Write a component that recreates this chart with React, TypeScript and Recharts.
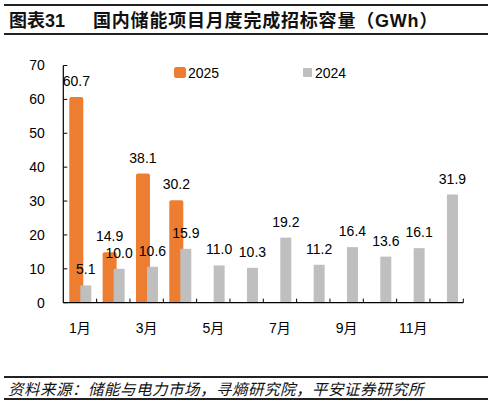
import React from 'react';
import { BarChart, Bar, XAxis, YAxis, LabelList, Legend, ReferenceLine } from 'recharts';

const months = ['1月', '2月', '3月', '4月', '5月', '6月', '7月', '8月', '9月', '10月', '11月', '12月'];
const values2025: (number | null)[] = [60.7, 14.9, 38.1, 30.2, null, null, null, null, null, null, null, null];
const values2024: number[] = [5.1, 10.0, 10.6, 15.9, 11.0, 10.3, 19.2, 11.2, 16.4, 13.6, 16.1, 31.9];
const yTicks = [0, 10, 20, 30, 40, 50, 60, 70];
const TICK_LEN = 1.2; // boundary tick length in value units

const seriesNames = ['2025', '2024'];
const colors = ['#ED7D31', '#BFBFBF'];

const data = months.map((m, i) => ({ month: m, v2025: values2025[i], v2024: values2024[i] }));

const FONT = '"Liberation Sans", Arial, "Noto Sans CJK SC", sans-serif';

const fmt = (v: any) => (v === null || v === undefined || v === '' ? '' : Number(v).toFixed(1));

const legendLeft = [174, 303];
const legendBox = [
  { w: 12, h: 11, r: 2.5 },
  { w: 9, h: 9, r: 1 },
];

const LegendContent = (props: any) => {
  const payload = props.payload || [];
  return (
    <div style={{ position: 'relative', width: 494, height: 16 }}>
      {payload.map((p: any, k: number) => {
        const idx = seriesNames.indexOf(String(p.value));
        const i = idx < 0 ? k : idx;
        const box = legendBox[i] || legendBox[1];
        return (
          <div
            key={String(p.value)}
            style={{
              position: 'absolute',
              left: legendLeft[i],
              top: 0,
              height: 16,
              display: 'flex',
              alignItems: 'center',
              fontFamily: FONT,
              fontSize: 14,
              color: '#000',
            }}
          >
            <span
              style={{
                display: 'inline-block',
                width: box.w,
                height: box.h,
                background: p.color,
                borderRadius: box.r,
                marginRight: i === 0 ? 2 : 3,
              }}
            />
            <span>{p.value}</span>
          </div>
        );
      })}
    </div>
  );
};

export default function App() {
  return (
    <div
      style={{
        position: 'absolute',
        left: 0,
        top: 0,
        width: 494,
        height: 405,
        background: '#fff',
        fontFamily: FONT,
        overflow: 'hidden',
      }}
    >
      <div style={{ position: 'absolute', left: 4, top: 4, width: 484, height: 1.5, background: '#222' }} />
      <div
        style={{
          position: 'absolute',
          left: 9,
          top: 9,
          height: 24,
          lineHeight: '24px',
          fontSize: 18,
          fontWeight: 'bold',
          color: '#111',
        }}
      >
        图表31
      </div>
      <div
        style={{
          position: 'absolute',
          left: 93,
          top: 9,
          height: 24,
          lineHeight: '24px',
          fontSize: 18,
          fontWeight: 'bold',
          letterSpacing: 0.8,
          color: '#111',
          whiteSpace: 'nowrap',
        }}
      >
        国内储能项目月度完成招标容量（GWh）
      </div>
      <div style={{ position: 'absolute', left: 4, top: 32.5, width: 484, height: 2, background: '#222' }} />

      <div style={{ position: 'absolute', left: 0, top: 0 }}>
        <BarChart
          width={494}
          height={345}
          data={data}
          margin={{ top: 65.5, right: 30.7, left: 4, bottom: 12.3 }}
          barGap={-3}
        >
          <XAxis
            dataKey="month"
            interval={1}
            tickLine={false}
            axisLine={{ stroke: '#000', strokeWidth: 1.2 }}
            tick={{ fontSize: 14, fill: '#000', fontFamily: FONT }}
            tickMargin={14}
            height={30}
          />
          <YAxis
            domain={[0, 70]}
            ticks={yTicks}
            interval={0}
            width={59.3}
            tickSize={-4}
            tickMargin={22.5}
            axisLine={{ stroke: '#000', strokeWidth: 1.2 }}
            tickLine={{ stroke: '#000', strokeWidth: 1 }}
            tick={{ fontSize: 14, fill: '#000', fontFamily: FONT }}
          />
          <Legend
            layout="vertical"
            align="center"
            verticalAlign="middle"
            content={<LegendContent />}
            wrapperStyle={{ position: 'absolute', left: 0, top: 64.5, width: 494 }}
          />
          {months.map((m) => (
            <ReferenceLine
              key={'tick-' + m}
              segment={[
                { x: m, y: 0 },
                { x: m, y: TICK_LEN },
              ]}
              position="end"
              stroke="#000"
              strokeWidth={1}
              ifOverflow="visible"
            />
          ))}
          <Bar
            dataKey="v2025"
            name={seriesNames[0]}
            fill={colors[0]}
            barSize={14}
            radius={[2, 2, 0, 0]}
            isAnimationActive={false}
          >
            <LabelList
              dataKey="v2025"
              position="top"
              offset={11}
              formatter={fmt}
              style={{ fontSize: 14, fill: '#000', fontFamily: FONT }}
            />
          </Bar>
          <Bar
            dataKey="v2024"
            name={seriesNames[1]}
            fill={colors[1]}
            barSize={11}
            isAnimationActive={false}
          >
            <LabelList
              dataKey="v2024"
              position="top"
              offset={11}
              formatter={fmt}
              style={{ fontSize: 14, fill: '#000', fontFamily: FONT }}
            />
          </Bar>
        </BarChart>
      </div>

      <div style={{ position: 'absolute', left: 4, top: 376, width: 484, height: 1.5, background: '#222' }} />
      <div
        style={{
          position: 'absolute',
          left: 8,
          top: 378,
          height: 21,
          lineHeight: '21px',
          fontSize: 15.5,
          fontStyle: 'italic',
          letterSpacing: 0.5,
          color: '#111',
          fontFamily: '"Noto Sans CJK SC", sans-serif',
          whiteSpace: 'nowrap',
        }}
      >
        资料来源：储能与电力市场，寻熵研究院，平安证券研究所
      </div>
      <div style={{ position: 'absolute', left: 4, top: 398, width: 484, height: 1.5, background: '#222' }} />
    </div>
  );
}
